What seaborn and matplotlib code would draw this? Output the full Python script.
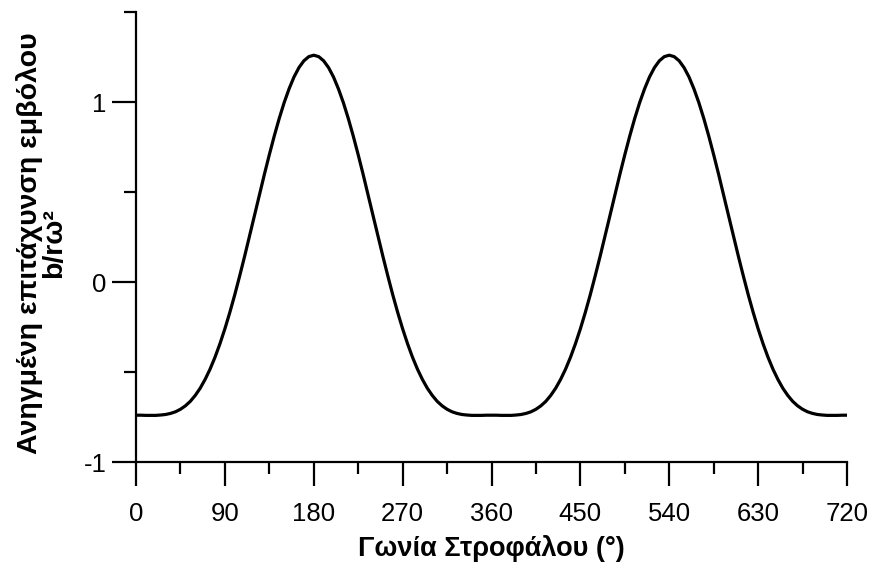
import matplotlib
matplotlib.use("Agg")
import matplotlib.pyplot as plt
import seaborn as sns
import pandas as pd
from matplotlib.ticker import FixedLocator

# Crank angle (degrees)
angles = list(range(0, 725, 5))

# Normalised piston acceleration b/(r*omega^2)
accel = [
    -0.740, -0.740, -0.741, -0.741, -0.741, -0.739, -0.736, -0.730, -0.721, -0.707,
    -0.688, -0.663, -0.630, -0.590, -0.541, -0.484, -0.418, -0.343, -0.260, -0.169,
    -0.071, 0.034, 0.143, 0.256, 0.370, 0.485, 0.598, 0.707, 0.811, 0.908,
    0.996, 1.073, 1.139, 1.191, 1.229, 1.252, 1.260,
    1.252, 1.229, 1.191, 1.139, 1.073, 0.996, 0.908, 0.811, 0.707, 0.598,
    0.485, 0.370, 0.256, 0.143, 0.034, -0.071, -0.169, -0.260, -0.343, -0.418,
    -0.484, -0.541, -0.590, -0.630, -0.663, -0.688, -0.707, -0.721, -0.730, -0.736,
    -0.739, -0.741, -0.741, -0.741, -0.740,
    -0.740, -0.740, -0.741, -0.741, -0.741, -0.739, -0.736, -0.730, -0.721, -0.707,
    -0.688, -0.663, -0.630, -0.590, -0.541, -0.484, -0.418, -0.343, -0.260, -0.169,
    -0.071, 0.034, 0.143, 0.256, 0.370, 0.485, 0.598, 0.707, 0.811, 0.908,
    0.996, 1.073, 1.139, 1.191, 1.229, 1.252, 1.260,
    1.252, 1.229, 1.191, 1.139, 1.073, 0.996, 0.908, 0.811, 0.707, 0.598,
    0.485, 0.370, 0.256, 0.143, 0.034, -0.071, -0.169, -0.260, -0.343, -0.418,
    -0.484, -0.541, -0.590, -0.630, -0.663, -0.688, -0.707, -0.721, -0.730, -0.736,
    -0.739, -0.741, -0.741, -0.741, -0.740,
    -0.740,
]

x_ticks = [0, 90, 180, 270, 360, 450, 540, 630, 720]
x_tick_labels = ["0", "90", "180", "270", "360", "450", "540", "630", "720"]
x_minor = [45, 135, 225, 315, 405, 495, 585, 675]
y_ticks = [-1, 0, 1]
y_tick_labels = ["-1", "0", "1"]
y_minor = [-0.5, 0.5, 1.5]

x_label = "Γωνία Στροφάλου (°)"
y_label = "Ανηγμένη επιτάχυνση εμβόλου\nb/rω²"

sns.set_style("ticks")
plt.rcParams["font.family"] = ["Liberation Sans", "DejaVu Sans"]
plt.rcParams["axes.unicode_minus"] = False
plt.rcParams["text.color"] = "black"
plt.rcParams["axes.labelcolor"] = "black"

df = pd.DataFrame({"angle": angles, "accel": accel})

fig = plt.figure(figsize=(8.74, 5.66), dpi=100)
ax = fig.add_axes([136 / 874, 1 - 462 / 566, (847 - 136) / 874, (462 - 12) / 566])

sns.lineplot(data=df, x="angle", y="accel", ax=ax, color="black", linewidth=2.3)

ax.set_xlim(0, 720)
ax.set_ylim(-1, 1.5)
ax.set_xticks(x_ticks)
ax.set_xticklabels(x_tick_labels)
ax.set_yticks(y_ticks)
ax.set_yticklabels(y_tick_labels)
ax.xaxis.set_minor_locator(FixedLocator(x_minor))
ax.yaxis.set_minor_locator(FixedLocator(y_minor))

for side in ["top", "right"]:
    ax.spines[side].set_visible(False)
for side in ["left", "bottom"]:
    ax.spines[side].set_linewidth(1.6)
    ax.spines[side].set_color("black")

ax.tick_params(axis="both", which="major", length=17, width=1.6, color="black",
               labelsize=18.5, labelcolor="black")
ax.tick_params(axis="both", which="minor", length=8.5, width=1.6, color="black")
ax.tick_params(axis="x", which="major", pad=12)
ax.tick_params(axis="y", which="major", pad=4)

ax.set_xlabel(x_label, fontsize=19.5, fontweight="bold", color="black")
ax.set_ylabel(y_label, fontsize=20.5, fontweight="bold", linespacing=0.9, color="black")
ax.xaxis.set_label_coords(0.5, -0.163)
ax.yaxis.set_label_coords(-0.097, 0.486)

fig.savefig("out.png", dpi=100)
